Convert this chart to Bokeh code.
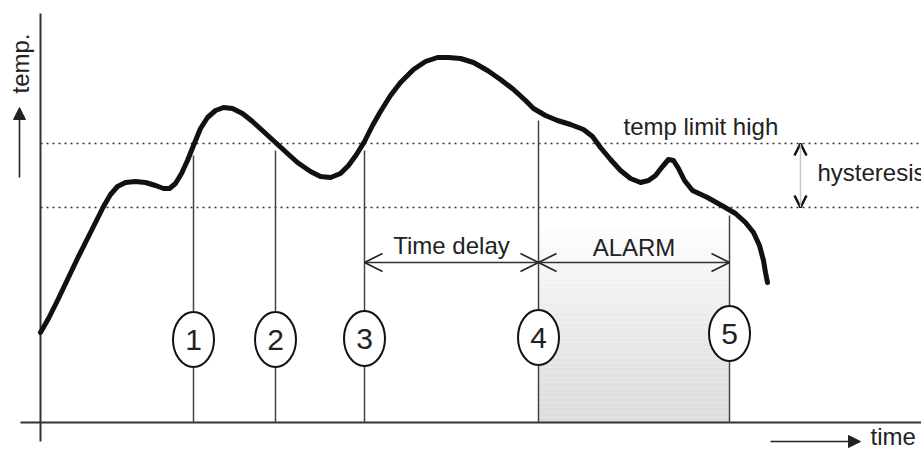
from bokeh.plotting import figure
from bokeh.models import Range1d, Arrow, OpenHead, NormalHead, Label, ColumnDataSource
from bokeh.core.properties import value
from bokeh.embed import file_html
from bokeh.resources import INLINE

# ---- data (time, temperature in arbitrary diagram units; origin at axis crossing) ----
curve_time = [0, 8, 17, 27, 37, 47, 55, 63, 70, 77, 85, 95, 105, 115, 123, 129, 135, 141, 147, 153,
              160, 167, 175, 183, 192, 202, 212, 223, 235, 247, 257, 270, 280, 290, 300, 308, 316, 324,
              332, 340, 350, 360, 373, 385, 397, 408, 420, 433, 447, 460, 473, 485, 493, 505, 517, 530,
              543, 552, 560, 570, 580, 590, 600, 608, 615, 622, 628, 633, 638, 644, 652, 667, 683, 695,
              705, 713, 719, 723, 725, 727]
curve_temp = [90, 104, 122, 143, 164, 184, 200, 216, 228, 236, 240, 241, 240, 237, 234, 234, 239, 249, 262, 277,
              294, 305, 312, 315, 314, 309, 301, 291, 280, 269, 260, 251, 246, 245, 249, 257, 268, 281,
              297, 311, 327, 340, 353, 361, 365, 365, 364, 360, 352, 343, 333, 322, 314, 307, 302, 298,
              293, 286, 275, 263, 252, 244, 240, 242, 247, 256, 263, 262, 254, 242, 232, 225, 216, 209,
              200, 190, 177, 162, 150, 140]

event_labels = ["1", "2", "3", "4", "5"]
event_time = [153, 235, 324, 498, 689]
event_line_top = [267, 272, 272, 302, 207]
event_marker_temp = [83, 83, 84, 85, 89]

limit_high = 279
limit_low = 215
arrow_level = 160

TXT = "#222222"
FONT = "Liberation Sans"

p = figure(width=921, height=451, output_backend="svg", toolbar_location=None,
           x_range=Range1d(-40, 881), y_range=Range1d(-29, 422),
           x_axis_type=None, y_axis_type=None, min_border=0,
           outline_line_color=None, background_fill_color="white")
p.grid.visible = False

# ---- alarm shaded region (vertical gradient) ----
n = 40
top = 200
bands_bottom = [top * i / n for i in range(n)]
bands_top = [top * (i + 1) / n for i in range(n)]
cols = []
for i in range(n):
    g = int(222 + (255 - 222) * (i / (n - 1)) ** 1.3)
    cols.append("#%02x%02x%02x" % (g, g, g))
p.quad(left=event_time[3], right=event_time[4], bottom=bands_bottom, top=bands_top,
       fill_color=cols, line_color=None)

# ---- limit lines ----
for lv in (limit_high, limit_low):
    p.line([0, 881], [lv, lv], line_color="#333333", line_width=1.6, line_dash="2 4")

# ---- axes ----
p.line([0, 0], [-19, 409], line_color="#333333", line_width=2)
p.line([-20, 881], [0, 0], line_color="#333333", line_width=2)

# ---- event lines ----
p.segment(x0=event_time, y0=[0] * 5, x1=event_time, y1=event_line_top,
          line_color="#444444", line_width=1.5)

# ---- curve ----
p.line(curve_time, curve_temp, line_color="#111111", line_width=5,
       line_join="round", line_cap="round")

# ---- event markers ----
src = ColumnDataSource(dict(x=event_time, y=event_marker_temp, lab=event_labels))
p.ellipse(x="x", y="y", width=41, height=55, source=src, fill_color="white",
          line_color="#111111", line_width=2)
p.text(x="x", y="y", text="lab", source=src, text_align="center", text_baseline="middle",
       text_font=value(FONT), text_font_size="30px", text_color=TXT)

# ---- time delay / alarm arrows ----
def head():
    return OpenHead(size=18, line_width=1.6, line_color="#222222")

p.add_layout(Arrow(start=head(), end=head(), x_start=event_time[2], y_start=arrow_level,
                   x_end=event_time[3], y_end=arrow_level, line_color="#333333", line_width=1.6))
p.add_layout(Arrow(start=head(), end=head(), x_start=event_time[3], y_start=arrow_level,
                   x_end=event_time[4], y_end=arrow_level, line_color="#333333", line_width=1.6))

# ---- hysteresis arrow ----
def hhead():
    return OpenHead(size=12, line_width=2.5, line_color="#111111")

p.add_layout(Arrow(start=hhead(), end=hhead(), x_start=760, y_start=limit_low,
                   x_end=760, y_end=limit_high, line_color="#c8c8c8", line_width=1.5))

# ---- axis direction arrows ----
p.add_layout(Arrow(end=NormalHead(size=12, fill_color="#222222", line_color="#222222"),
                   x_start=-21, y_start=245, x_end=-21, y_end=315,
                   line_color="#222222", line_width=1.6))
p.add_layout(Arrow(end=NormalHead(size=12, fill_color="#222222", line_color="#222222"),
                   x_start=730, y_start=-19, x_end=820, y_end=-19,
                   line_color="#222222", line_width=1.6))

# ---- texts ----
def lab(x, y, t, align="left", angle=0):
    p.add_layout(Label(x=x, y=y, text=t, text_align=align, text_baseline="middle", angle=angle,
                       text_font=FONT, text_font_size="24px", text_color=TXT))

lab((event_time[2] + event_time[3]) / 2, 177, "Time delay", align="center")
lab((event_time[3] + event_time[4]) / 2, 175, "ALARM", align="center")
lab(583, 296, "temp limit high")
lab(777, 250, "hysteresis")
lab(830, -14, "time")
lab(-20, 359, "temp.", align="center", angle=1.5708)

open("out.html", "w").write(file_html(p, INLINE))
